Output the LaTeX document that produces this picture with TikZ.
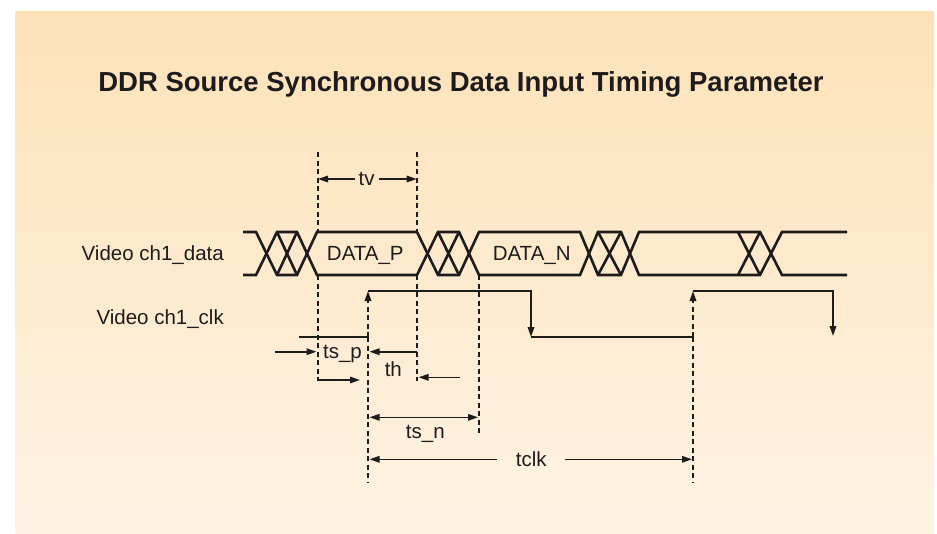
\documentclass[tikz,border=0pt]{standalone}
\usepackage{fontspec}
\setmainfont{Liberation Sans}
\usetikzlibrary{arrows.meta}
\definecolor{bgtop}{RGB}{253,226,184}
\definecolor{bgbot}{RGB}{254,243,228}
\definecolor{ink}{RGB}{30,27,28}
\begin{document}
\begin{tikzpicture}[x=1pt,y=-1pt,
  bus/.style={line width=2.6pt, line join=miter, draw=ink},
  sig/.style={line width=1.7pt, draw=ink},
  guide/.style={line width=1.7pt, draw=ink, dash pattern=on 5pt off 3.5pt},
  tip/.style={-{Triangle[length=10pt,width=6.5pt]}},
  dim/.style={line width=1.6pt, draw=ink, tip},
  dimtwo/.style={line width=1.6pt, draw=ink, {Triangle[length=10pt,width=6.5pt]}-{Triangle[length=10pt,width=6.5pt]}},
  lbl/.style={text=ink, font=\fontsize{20.5}{24}\selectfont, inner sep=0pt},
  ttl/.style={text=ink, font=\fontsize{27.5}{32}\selectfont\bfseries, inner sep=0pt}]
\useasboundingbox (0,0) rectangle (937,533);
\shade[top color=bgtop, bottom color=bgbot] (15,11) rectangle (934,533);

% title and labels
\node[ttl, anchor=base] (title) at (461,91.5) {DDR Source Synchronous Data Input Timing Parameter};
\node[lbl, anchor=base east] (datalbl) at (224,260.5) {Video ch1\_data};
\node[lbl, anchor=base east] (clklbl) at (224,324.3) {Video ch1\_clk};
\node[lbl, anchor=base] (dp) at (365.3,260.7) {DATA\_P};
\node[lbl, anchor=base] (dn) at (531.7,260.7) {DATA\_N};
\node[lbl, anchor=base] (tv) at (366.7,185) {tv};
\node[lbl, anchor=base] (tsp) at (342.5,358.3) {ts\_p};
\node[lbl, anchor=base] (th) at (393.3,376.7) {th};
\node[lbl, anchor=base] (tsn) at (425.3,438.3) {ts\_n};
\node[lbl, anchor=base] (tclk) at (531.2,466) {tclk};

% data bus
\def\T{232}\def\B{275}
\draw[bus] (243,\T)--(256,\T)--(277,\B)--(297,\B)--(317,\T)--(417,\T)--(438,\B)--(459,\B)--(479,\T)--(580,\T)--(598,\B)--(621,\B)--(639,\T)--(760,\T)--(782,\B)--(847,\B);
\draw[bus] (243,\B)--(256,\B)--(277,\T)--(297,\T)--(317,\B)--(417,\B)--(438,\T)--(459,\T)--(479,\B)--(580,\B)--(598,\T)--(621,\T)--(639,\B)--(760,\B)--(782,\T)--(847,\T);
\draw[bus] (277,\T)--(297,\B) (277,\B)--(297,\T);
\draw[bus] (438,\T)--(459,\B) (438,\B)--(459,\T);
\draw[bus] (598,\T)--(621,\B) (598,\B)--(621,\T);
\draw[bus] (738,\T)--(760,\B) (738,\B)--(760,\T);

% guide coordinates
\coordinate (v1top) at (318,152); \coordinate (v1bt) at (318,\T);
\coordinate (v1bb) at (318,\B);  \coordinate (v1end) at (318,381);
\coordinate (v2top) at (416.7,152); \coordinate (v2bt) at (416.7,\T);
\coordinate (v2bb) at (416.7,\B);  \coordinate (v2end) at (416.7,381);
\coordinate (v4bb) at (479.3,\B);  \coordinate (v4end) at (479.3,433);
\coordinate (c1lo) at (299,337); \coordinate (r1lo) at (368,337); \coordinate (r1hi) at (368,291);
\coordinate (f1hi) at (531,291); \coordinate (f1lo) at (531,337);
\coordinate (r2lo) at (693,337); \coordinate (r2hi) at (693,291);
\coordinate (f2hi) at (833,291); \coordinate (f2lo) at (833,336);
\coordinate (v3end) at (368,482); \coordinate (v5end) at (693,482);

% dashed guides
\draw[guide] (v1top)--(v1bt) (v1bb)--(v1end);
\draw[guide] (v2top)--(v2bt) (v2bb)--(v2end);
\draw[guide] (v4bb)--(v4end);
\draw[guide] (r1lo)--(v3end);
\draw[guide] (r2lo)--(v5end);

% clock
\draw[sig] (c1lo)--(r1lo);
\draw[guide, tip] (r1lo)--(r1hi);
\draw[sig, tip] (r1hi)--(f1hi)--(f1lo);
\draw[sig] (f1lo)--(r2lo);
\draw[guide, tip] (r2lo)--(r2hi);
\draw[sig, tip] (r2hi)--(f2hi)--(f2lo);

% tv
\coordinate (tva) at (355,179); \coordinate (tvb) at (379.3,179);
\coordinate (tvl) at (318,179); \coordinate (tvr) at (416.7,179);
\draw[dim] (tva)--(tvl);
\draw[dim] (tvb)--(tvr);

% ts_p
\coordinate (tspa) at (275,351.7); \coordinate (tspb) at (316.5,351.7);
\draw[dim] (tspa)--(tspb);
\coordinate (tspc) at (318,380); \coordinate (tspd) at (360,380);
\draw[dim] (tspc)--(tspd);

% th
\coordinate (tha) at (416.7,351.7); \coordinate (thb) at (369.5,351.7);
\draw[dim] (tha)--(thb);
\coordinate (thc) at (460,377.3); \coordinate (thd) at (418.5,377.3);
\draw[dim] (thc)--(thd);

% ts_n
\coordinate (tsna) at (369.5,417.3); \coordinate (tsnb) at (478,417.3);
\draw[dimtwo] (tsna)--(tsnb);

% tclk
\coordinate (tca) at (496.7,459.3); \coordinate (tcb) at (369.5,459.3);
\coordinate (tcc) at (565,459.3); \coordinate (tcd) at (692,459.3);
\draw[dim] (tca)--(tcb);
\draw[dim] (tcc)--(tcd);
\end{tikzpicture}
\end{document}
